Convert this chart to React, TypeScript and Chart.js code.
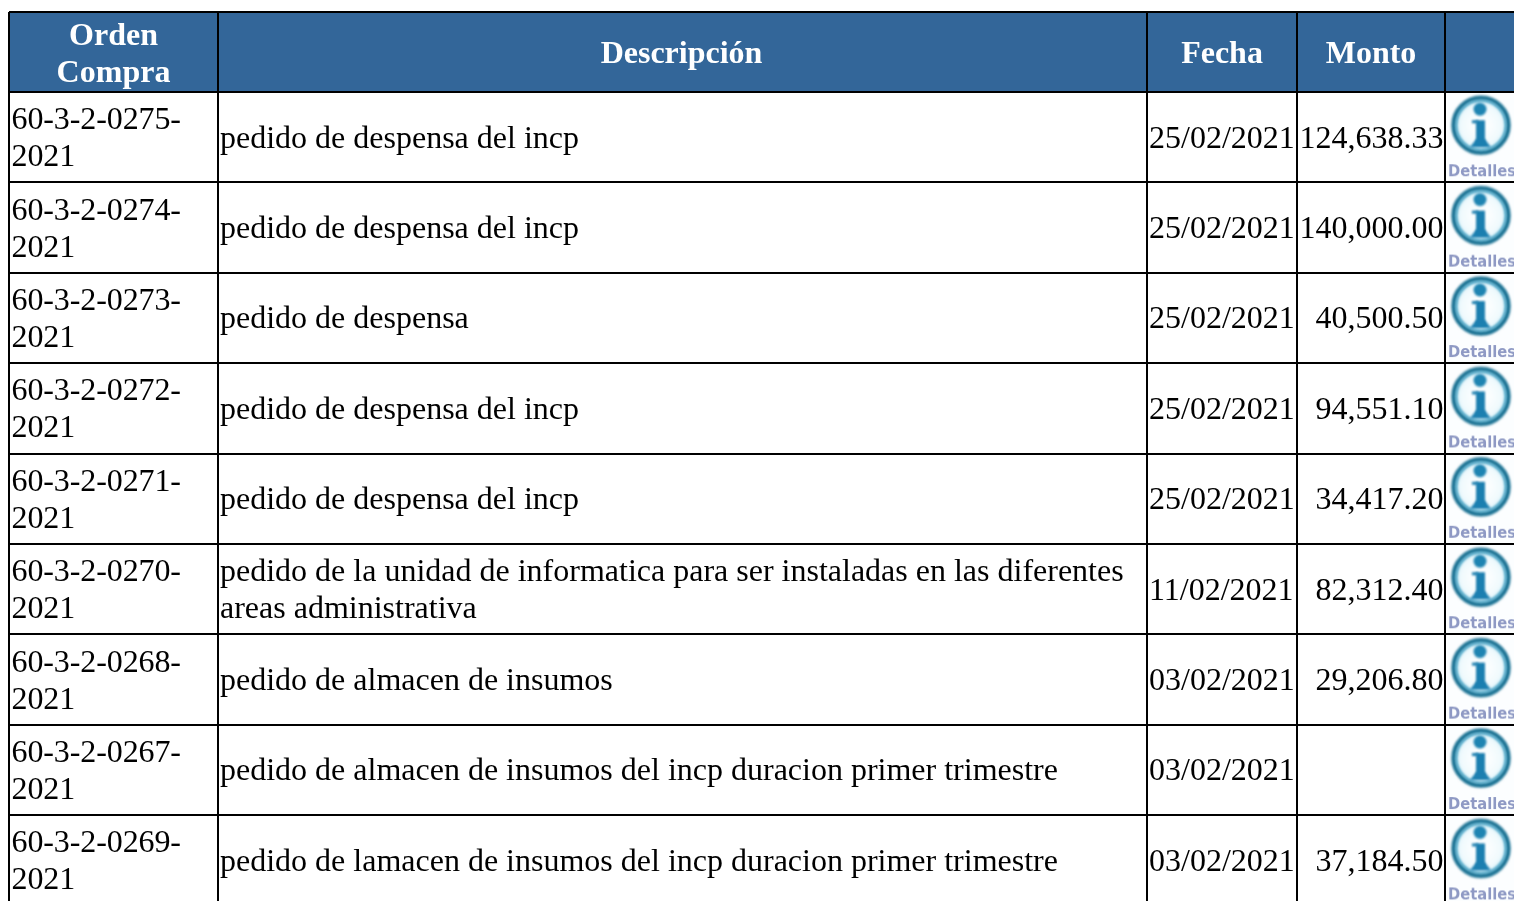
import React, { useEffect, useRef } from "react";
import { Chart, registerables } from "chart.js";

Chart.register(...registerables);

const headers = [["Orden", "Compra"], ["Descripción"], ["Fecha"], ["Monto"], [""]];
const orders = [
  "60-3-2-0275-2021", "60-3-2-0274-2021", "60-3-2-0273-2021",
  "60-3-2-0272-2021", "60-3-2-0271-2021", "60-3-2-0270-2021",
  "60-3-2-0268-2021", "60-3-2-0267-2021", "60-3-2-0269-2021",
];
const descriptions = [
  ["pedido de despensa del incp"],
  ["pedido de despensa del incp"],
  ["pedido de despensa"],
  ["pedido de despensa del incp"],
  ["pedido de despensa del incp"],
  ["pedido de la unidad de informatica para ser instaladas en las diferentes", "areas administrativa"],
  ["pedido de almacen de insumos"],
  ["pedido de almacen de insumos del incp duracion primer trimestre"],
  ["pedido de lamacen de insumos del incp duracion primer trimestre"],
];
const dates = [
  "25/02/2021", "25/02/2021", "25/02/2021", "25/02/2021", "25/02/2021",
  "11/02/2021", "03/02/2021", "03/02/2021", "03/02/2021",
];
const montos: (number | null)[] = [
  124638.33, 140000.0, 40500.5, 94551.1, 34417.2, 82312.4, 29206.8, null, 37184.5,
];

const columnEdges = [9, 218, 1147, 1297, 1445];
const headerRowTop = -0.885;
const lastRowEdge = 8.949;

const SERIF = '"Liberation Serif", "Times New Roman", serif';
const BLACK = "#000000";
const HEADER_BG = "#336699";

function makeIcon(): HTMLCanvasElement {
  const c = document.createElement("canvas");
  c.width = 68;
  c.height = 88;
  const g = c.getContext("2d")!;
  g.fillStyle = "#fcfeff";
  g.fillRect(0, 0, 68, 88);
  g.filter = "blur(0.8px)";
  const cx = 34;
  const cy = 32;
  const inner = g.createRadialGradient(cx, cy, 4, cx, cy, 27);
  inner.addColorStop(0, "#ffffff");
  inner.addColorStop(0.7, "#f0fafd");
  inner.addColorStop(1, "#c6e9f4");
  g.fillStyle = inner;
  g.beginPath();
  g.arc(cx, cy, 27, 0, Math.PI * 2);
  g.fill();
  g.strokeStyle = "#1f7596";
  g.lineWidth = 4.5;
  g.beginPath();
  g.arc(cx, cy, 27.5, 0, Math.PI * 2);
  g.stroke();
  g.strokeStyle = "#2f9ac2";
  g.lineWidth = 1.5;
  g.beginPath();
  g.arc(cx, cy, 24.5, 0, Math.PI * 2);
  g.stroke();
  g.fillStyle = "#1e84b2";
  g.beginPath();
  g.arc(cx - 1, cy - 16, 6.5, 0, Math.PI * 2);
  g.fill();
  g.fillStyle = "#1b7fb0";
  g.fillRect(cx - 5, cy - 5, 9, 24);
  g.fillRect(cx - 9, cy - 5, 6, 3);
  g.beginPath();
  g.moveTo(cx - 5, cy + 14);
  g.lineTo(cx + 4, cy + 14);
  g.lineTo(cx + 10, cy + 22);
  g.lineTo(cx - 11, cy + 22);
  g.closePath();
  g.fill();
  g.filter = "blur(0.6px)";
  g.font = 'bold 16px "DejaVu Sans", sans-serif';
  g.fillStyle = "#8e99c4";
  g.textAlign = "left";
  g.textBaseline = "alphabetic";
  g.fillText("Detalles", 1, 83, 68);
  return c;
}

const tablePlugin = {
  id: "tableCells",
  beforeDraw(chart: any) {
    const { ctx, scales } = chart;
    const { x, y } = scales;
    ctx.save();
    ctx.fillStyle = HEADER_BG;
    ctx.fillRect(x.left, y.top, x.right - x.left, y.getPixelForValue(0) - y.top);
    ctx.restore();
  },
  afterDraw(chart: any) {
    const { ctx, scales } = chart;
    const { x, y } = scales;
    const edge = (i: number) => x.getPixelForValue(i < columnEdges.length ? columnEdges[i] : x.max);
    ctx.save();
    ctx.textBaseline = "alphabetic";

    ctx.font = `bold 32px ${SERIF}`;
    ctx.fillStyle = "#ffffff";
    ctx.textAlign = "center";
    const headCenter = (y.getPixelForValue(headerRowTop) + y.getPixelForValue(0)) / 2;
    headers.forEach((lines, col) => {
      const cx = (edge(col) + edge(col + 1)) / 2 - (lines.length === 1 && col === 1 ? 1 : 0);
      const firstBase = Math.floor(headCenter + 11 - ((lines.length - 1) * 37) / 2 + (lines.length > 1 ? 0.5 : 0));
      lines.forEach((t, i) => ctx.fillText(t, cx, firstBase + i * 37));
    });

    ctx.font = `32px ${SERIF}`;
    ctx.fillStyle = BLACK;
    orders.forEach((order, r) => {
      const top = y.getPixelForValue(r);
      const mid = top + 44.6;
      ctx.textAlign = "left";
      const cut = order.lastIndexOf("-") + 1;
      ctx.letterSpacing = "-0.1px";
      ctx.fillText(order.slice(0, cut), edge(0) + 2.5, Math.round(mid - 7.4));
      ctx.fillText(order.slice(cut), edge(0) + 2.5, Math.round(mid + 29.6));
      ctx.letterSpacing = "0px";
      const d = descriptions[r];
      d.forEach((t, i) =>
        ctx.fillText(t, edge(1) + 2, Math.round(mid + 11 - ((d.length - 1) * 37) / 2 + i * 37))
      );
      ctx.fillText(dates[r], edge(2) + 2, Math.round(mid + 11));
      const m = montos[r];
      if (m !== null) {
        ctx.textAlign = "right";
        ctx.fillText(
          m.toLocaleString("en-US", { minimumFractionDigits: 2, maximumFractionDigits: 2 }),
          edge(4) - 1.5,
          Math.round(mid + 11)
        );
      }
    });
    ctx.restore();
  },
};

export default function App() {
  const ref = useRef<HTMLCanvasElement>(null);
  useEffect(() => {
    const icon = makeIcon();
    const chart = new Chart(ref.current!, {
      type: "scatter",
      data: {
        datasets: [
          {
            label: "Detalles",
            data: orders.map((_, r) => ({ x: 1481, y: r + 0.5 })),
            pointStyle: icon as any,
            pointRadius: 34,
            pointHoverRadius: 34,
          },
        ],
      },
      options: {
        animation: false,
        responsive: false,
        events: [],
        layout: { autoPadding: false, padding: { left: 9, top: 12, right: 0, bottom: 0 } },
        plugins: { legend: { display: false }, tooltip: { enabled: false } },
        scales: {
          x: {
            type: "linear",
            min: columnEdges[0],
            max: 1514,
            ticks: { display: false },
            border: { display: false },
            grid: { color: BLACK, lineWidth: 2, drawTicks: false },
            afterBuildTicks: (s: any) => {
              s.ticks = columnEdges.map((value) => ({ value }));
            },
          },
          y: {
            type: "linear",
            reverse: true,
            min: headerRowTop,
            max: lastRowEdge,
            ticks: { display: false },
            border: { display: false },
            grid: { color: BLACK, lineWidth: 2, drawTicks: false },
            afterBuildTicks: (s: any) => {
              s.ticks = [headerRowTop, ...orders.map((_, r) => r)].map((value) => ({ value }));
            },
          },
        },
      },
      plugins: [tablePlugin],
    } as any);
    return () => chart.destroy();
  }, []);
  return (
    <div style={{ position: "fixed", left: 0, top: 0, width: 1514, height: 901, background: "#ffffff", overflow: "hidden" }}>
      <canvas ref={ref} width={1514} height={901} style={{ display: "block" }} />
    </div>
  );
}
